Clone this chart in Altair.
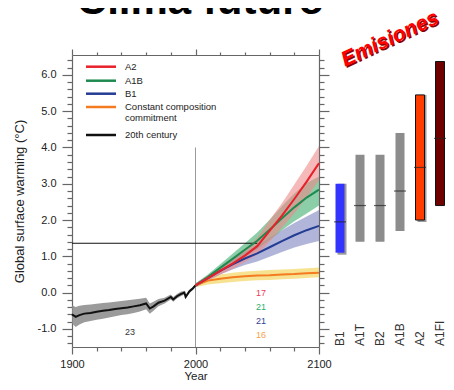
import altair as alt
import pandas as pd

# ---------------- data ----------------
years_hist = [1900, 1903, 1906, 1910, 1915, 1920, 1925, 1930, 1935, 1940, 1945, 1950, 1955,
              1960, 1963, 1966, 1970, 1975, 1980, 1982, 1985, 1988, 1991, 1992, 1995, 1998, 2000]
hist_mean = [-0.60, -0.67, -0.62, -0.58, -0.56, -0.53, -0.50, -0.48, -0.45, -0.43, -0.41, -0.38, -0.35,
             -0.30, -0.44, -0.38, -0.28, -0.22, -0.12, -0.19, -0.10, -0.04, 0.00, -0.12, 0.03, 0.12, 0.20]
hist_lo = [-0.85, -0.95, -0.88, -0.82, -0.78, -0.75, -0.72, -0.69, -0.65, -0.62, -0.60, -0.56, -0.52,
           -0.46, -0.58, -0.50, -0.38, -0.30, -0.19, -0.25, -0.16, -0.10, -0.05, -0.17, -0.02, 0.08, 0.16]
hist_hi = [-0.35, -0.40, -0.36, -0.34, -0.33, -0.31, -0.29, -0.27, -0.25, -0.23, -0.21, -0.19, -0.17,
           -0.14, -0.30, -0.25, -0.18, -0.14, -0.05, -0.12, -0.04, 0.02, 0.05, -0.07, 0.08, 0.16, 0.24]

scen_years = [2000, 2010, 2020, 2030, 2040, 2050, 2060, 2070, 2080, 2090, 2100]
a2_mean = [0.20, 0.40, 0.60, 0.80, 1.02, 1.28, 1.70, 2.12, 2.58, 3.06, 3.57]
a2_lo = [0.15, 0.33, 0.50, 0.66, 0.84, 1.05, 1.40, 1.78, 2.18, 2.62, 3.10]
a2_hi = [0.25, 0.47, 0.70, 0.94, 1.20, 1.51, 2.00, 2.46, 2.98, 3.50, 4.04]
a1b_mean = [0.20, 0.43, 0.68, 0.93, 1.18, 1.43, 1.73, 2.05, 2.35, 2.62, 2.84]
a1b_lo = [0.15, 0.36, 0.58, 0.79, 1.00, 1.20, 1.45, 1.72, 1.97, 2.18, 2.40]
a1b_hi = [0.25, 0.50, 0.78, 1.07, 1.36, 1.66, 2.01, 2.38, 2.73, 3.02, 3.20]
b1_mean = [0.20, 0.40, 0.60, 0.78, 0.94, 1.08, 1.25, 1.42, 1.58, 1.72, 1.84]
b1_lo = [0.15, 0.33, 0.50, 0.64, 0.76, 0.86, 0.99, 1.12, 1.24, 1.34, 1.42]
b1_hi = [0.25, 0.47, 0.70, 0.92, 1.12, 1.30, 1.51, 1.72, 1.92, 2.10, 2.28]
com_mean = [0.20, 0.33, 0.38, 0.42, 0.45, 0.47, 0.48, 0.50, 0.51, 0.53, 0.55]
com_lo = [0.15, 0.22, 0.26, 0.29, 0.32, 0.34, 0.35, 0.37, 0.38, 0.40, 0.42]
com_hi = [0.25, 0.44, 0.50, 0.55, 0.58, 0.60, 0.62, 0.64, 0.65, 0.67, 0.69]

bar_scen = ["B1", "A1T", "B2", "A1B", "A2", "A1FI"]
bar_low = [1.10, 1.40, 1.40, 1.70, 2.00, 2.40]
bar_high = [3.00, 3.80, 3.80, 4.40, 5.45, 6.37]
bar_best = [1.95, 2.40, 2.40, 2.80, 3.45, 4.25]

count_text = ["17", "21", "21", "16", "23"]
count_series = ["A2", "A1B", "B1", "commit", "hist"]
count_year = [2053, 2053, 2053, 2053, 1947]
count_value = [0.00, -0.40, -0.79, -1.18, -1.10]

ref_vline = {"year": [2000], "top": [4.0], "bottom": [-1.5]}
ref_hline = {"year": [1900], "year2": [2050], "value": [1.36]}

legend_labels = ["A2", "A1B", "B1", "Constant composition", "commitment", "20th century"]

# ---------------- styles ----------------
FONT = "Liberation Sans"
W, H = 374, 292
XR = [0, 247]
YD = [-1.5, 6.55]
line_color = {"hist": "#111111", "commit": "#F47B20", "B1": "#233C94", "A1B": "#1E8A50", "A2": "#E8202A"}
band_color = {"hist": "#8A8A8A", "commit": "#F2CF4A", "B1": "#9096C9", "A1B": "#3DAE6E", "A2": "#F08A8A"}
band_opacity = {"hist": 0.85, "commit": 0.6, "B1": 0.7, "A1B": 0.6, "A2": 0.6}
count_color = {"A2": "#E8405A", "A1B": "#2BAF6A", "B1": "#2F3F8F", "commit": "#F7A24A", "hist": "#333333"}
bar_color = ["#3333FF", "#8C8C8C", "#8C8C8C", "#8C8C8C", "#FF3B00", "#6E0000"]
outlined = ["A2", "A1FI"]
shadowed = ["B1", "A2"]
legend_colors = ["#E8202A", "#1E8A50", "#233C94", "#F47B20", None, "#111111"]
legend_y = [11.7, 25.7, 38.7, 52, 63, 80]

series_data = {
    "hist": (years_hist, hist_mean, hist_lo, hist_hi),
    "commit": (scen_years, com_mean, com_lo, com_hi),
    "B1": (scen_years, b1_mean, b1_lo, b1_hi),
    "A1B": (scen_years, a1b_mean, a1b_lo, a1b_hi),
    "A2": (scen_years, a2_mean, a2_lo, a2_hi),
}

major_y = "abs(datum.value - round(datum.value)) < 0.01"
y_vals = [round(-1.4 + 0.2 * i, 1) for i in range(40)]
x_vals = list(range(1900, 2101, 20))
major_x = "datum.value % 100 === 0"


def xs(field="year", axis=None):
    return alt.X(field, type="quantitative",
                 scale=alt.Scale(domain=[1900, 2100], range=XR, nice=False, zero=False), axis=axis)


def ys(field, axis=None):
    return alt.Y(field, type="quantitative",
                 scale=alt.Scale(domain=YD, nice=False, zero=False), axis=axis)


axis_common = dict(domainColor="#666666", tickColor="#666666", domainWidth=1.2, tickWidth=1.2,
                   grid=False, labelOverlap=False, labelFlush=False, labelFont=FONT,
                   labelColor="#222222", titleFont=FONT, titleColor="#222222", titleFontWeight="normal")

left_axis = alt.Axis(orient="left", values=y_vals,
                     labelExpr=f"{major_y} ? replace(format(datum.value, '.1f'), '\u2212', '-') : ''",
                     tickSize={"condition": {"test": major_y, "value": 10}, "value": 5},
                     labelFontSize=11, labelPadding=6,
                     title="Global surface warming (°C)", titleFontSize=13,
                     titleX=-53, titleY=146, titleAngle=270, titleAlign="center", titleBaseline="middle",
                     **axis_common)
right_axis = alt.Axis(orient="right", values=y_vals, labels=False, title=None, offset=-(W - XR[1]),
                      tickSize={"condition": {"test": major_y, "value": 10}, "value": 5}, **axis_common)
bottom_axis = alt.Axis(orient="bottom", values=x_vals,
                       labelExpr=f"{major_x} ? '' + datum.value : ''",
                       tickSize={"condition": {"test": major_x, "value": 7}, "value": 4},
                       labelFontSize=11, labelPadding=4,
                       title="Year", titleFontSize=11.5, titleY=29, titleBaseline="middle",
                       **axis_common)
top_axis = alt.Axis(orient="top", values=x_vals, labels=False, title=None,
                    tickSize={"condition": {"test": major_x, "value": 6}, "value": 3}, **axis_common)

layers = []

# uncertainty bands
for i, s in enumerate(["hist", "commit", "B1", "A1B", "A2"]):
    yrs, mean, lo, hi = series_data[s]
    df = pd.DataFrame({"year": yrs, "lo": lo, "hi": hi})
    layers.append(
        alt.Chart(df).mark_area(color=band_color[s], opacity=band_opacity[s]).encode(
            x=xs(axis=bottom_axis if i == 0 else None),
            y=ys("lo", axis=left_axis if i == 0 else None),
            y2="hi",
        )
    )

# reference rules
layers.append(
    alt.Chart(pd.DataFrame(ref_vline)).mark_rule(color="#9A9A9A", strokeWidth=1).encode(
        x=xs(), y=ys("top"), y2="bottom")
)
layers.append(
    alt.Chart(pd.DataFrame(ref_hline)).mark_rule(color="#111111", strokeWidth=1).encode(
        x=xs(), x2="year2", y=ys("value"))
)

# mean lines
for i, s in enumerate(["hist", "commit", "B1", "A1B", "A2"]):
    yrs, mean, lo, hi = series_data[s]
    df = pd.DataFrame({"year": yrs, "mean": mean})
    layers.append(
        alt.Chart(df).mark_line(color=line_color[s], strokeWidth=2.0).encode(
            x=xs(axis=top_axis if i == 0 else None),
            y=ys("mean", axis=right_axis if i == 0 else None),
        )
    )

# model count labels
cdf = pd.DataFrame({"year": count_year, "value": count_value, "t": count_text, "series": count_series})
layers.append(
    alt.Chart(cdf).mark_text(font=FONT, fontSize=9, baseline="middle").encode(
        x=xs(), y=ys("value"), text="t:N",
        color=alt.Color("series:N", scale=alt.Scale(domain=list(count_color.keys()),
                                                     range=list(count_color.values())), legend=None),
    )
)

# right panel: likely ranges
bdf = pd.DataFrame({"scen": bar_scen, "low": bar_low, "high": bar_high, "best": bar_best})
bx = alt.X("scen:N", scale=alt.Scale(domain=bar_scen, range=[258, 378], paddingInner=0, paddingOuter=0),
           axis=None)
layers.append(
    alt.Chart(bdf).transform_filter(alt.FieldOneOfPredicate(field="scen", oneOf=shadowed))
    .mark_bar(size=9, color="#9A9A9A", xOffset=2, yOffset=2).encode(x=bx, y=ys("low"), y2="high")
)
layers.append(
    alt.Chart(bdf).mark_bar(size=9).encode(
        x=bx, y=ys("low"), y2="high",
        color=alt.Color("scen:N", scale=alt.Scale(domain=bar_scen, range=bar_color), legend=None),
    )
)
layers.append(
    alt.Chart(bdf).transform_filter(alt.FieldOneOfPredicate(field="scen", oneOf=outlined))
    .mark_bar(size=9, fillOpacity=0, stroke="#111111", strokeWidth=1).encode(x=bx, y=ys("low"), y2="high")
)
layers.append(
    alt.Chart(bdf).mark_tick(size=12, thickness=1.2, color="#222222").encode(x=bx, y=ys("best"))
)
layers.append(
    alt.Chart(bdf).mark_text(font=FONT, fontSize=12, angle=270, align="left", baseline="middle",
                             color="#333333").encode(x=bx, y=alt.value(H - 1), text="scen:N")
)

# legend (drawn inside the plot)
for lab, col, yp in zip(legend_labels, legend_colors, legend_y):
    one = pd.DataFrame({"t": [lab]})
    if col is not None:
        layers.append(alt.Chart(one).mark_rule(color=col, strokeWidth=2.5).encode(
            x=alt.value(14), x2=alt.value(44), y=alt.value(yp)))
    layers.append(alt.Chart(one).mark_text(font=FONT, fontSize=9.5, align="left", baseline="middle",
                                           color="#222222").encode(
        x=alt.value(53), y=alt.value(yp), text="t:N"))

# titles
layers.append(
    alt.Chart(pd.DataFrame({"t": ["Clima futuro"]})).mark_text(
        font=FONT, fontSize=42, fontWeight="bold", color="#000000", align="center",
        baseline="alphabetic").encode(x=alt.value(128.5), y=alt.value(-41), text="t:N")
)
for col, dx, dy in [("#8B0000", 1.5, 1.5), ("#FF0000", 0, 0)]:
    layers.append(
        alt.Chart(pd.DataFrame({"t": ["Emisiones"]})).mark_text(
            font=FONT, fontSize=21, fontWeight="bold", fontStyle="italic", color=col, align="center",
            baseline="middle", angle=335).encode(x=alt.value(318 + dx), y=alt.value(-16 + dy), text="t:N")
    )

chart = alt.layer(*layers).resolve_scale(
    x="independent", y="independent", color="independent"
).properties(
    width=W, height=H,
    padding={"left": 64, "top": 47, "right": 0, "bottom": 35},
    autosize=alt.AutoSizeParams(type="none"),
).configure_view(stroke=None)

chart.save("out.html", embed_options={"renderer": "svg", "actions": False})
